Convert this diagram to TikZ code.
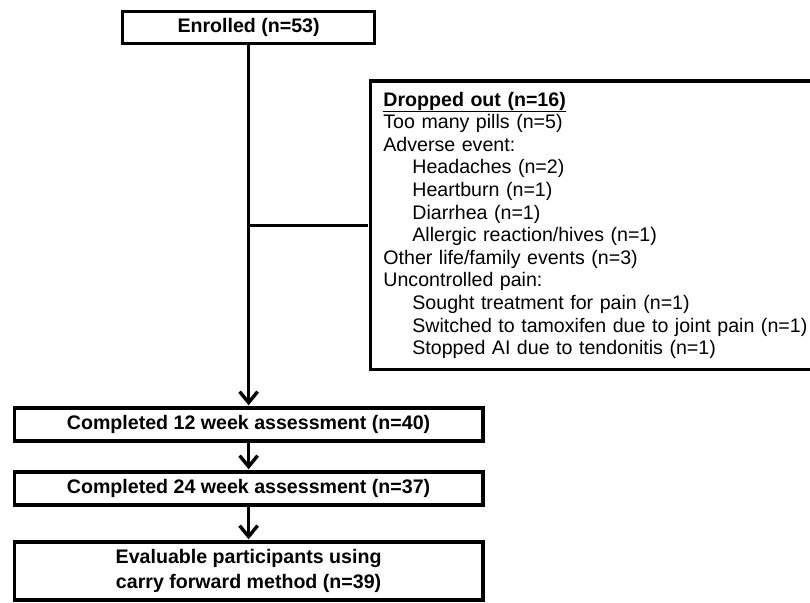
\documentclass[tikz,border=0pt]{standalone}
\usepackage{fontspec}
\setmainfont{Liberation Sans}
\usetikzlibrary{arrows.meta, positioning}

\begin{document}
\begin{tikzpicture}[->,
				>={Straight Barb[length=11pt, width=18pt]},
				shorten >=1pt,
				x=1pt, y=-1pt,
				line width=3.4pt,
				box/.style={-, draw, rectangle, inner sep=0pt, align=center,
					minimum width=468.5pt, minimum height=33pt,
					font=\fontsize{19.6}{25}\selectfont\bfseries}]
				\useasboundingbox (0,0) rectangle (810,602);
				\node at (248.6,27.5) (a) [box, minimum width=252pt, minimum height=32.4pt] {Enrolled (n=53)};
				\node at (248.6,424.5) (b) [box] {Completed 12 week assessment (n=40)};
				\node at (248.6,488.5) (c) [box] {Completed 24 week assessment (n=37)};
				\node at (248.6,571) (e) [box, minimum height=58pt] {Evaluable participants using\\ carry forward method (n=39)};
				\node at (368.7,225.3) (d) [-, draw, anchor=west, align=left, text width=490pt,
					inner xsep=13pt, inner ysep=0pt, minimum height=288.5pt,
					font=\fontsize{19.6}{22.6}\selectfont]
					{\textbf{\underline{Dropped out (n=16)}}\\
					Too many pills (n=5)\\
					Adverse event:\\
					\hspace*{29pt}Headaches (n=2)\\
					\hspace*{29pt}Heartburn (n=1)\\
					\hspace*{29pt}Diarrhea (n=1)\\
					\hspace*{29pt}Allergic reaction/hives (n=1)\\
					Other life/family events (n=3)\\
					Uncontrolled pain:\\
					\hspace*{29pt}Sought treatment for pain (n=1)\\
					\hspace*{29pt}Switched to tamoxifen due to joint pain (n=1)\\
					\hspace*{29pt}Stopped AI due to tendonitis (n=1)};
				\coordinate (s) at (a |- d.west);
				\draw[->, black] (a) -- (b);
				\draw[-, black] (s) -- (d.west);
				\draw[->, black] (b) -- (c);
				\draw[->, black] (c) -- (e);
			\end{tikzpicture}
\end{document}
